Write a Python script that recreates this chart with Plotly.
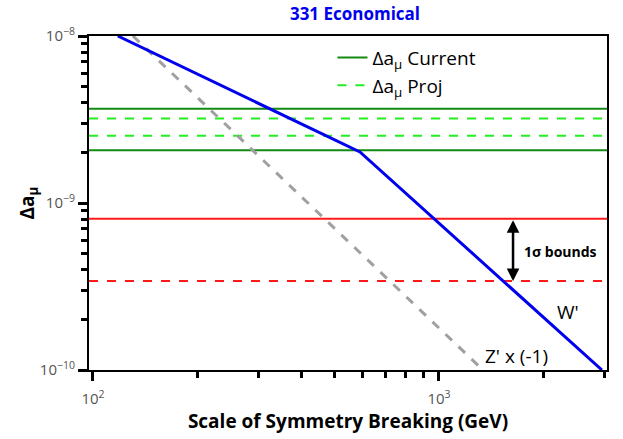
import math
import plotly.graph_objects as go

# ---- data ----
x_range_vals = [97.4, 3059]             # GeV, axis span
wprime_x = [118, 591, 2958]             # W' contribution
wprime_y = [1.0e-8, 2.02e-9, 1.0e-10]
zprime_x = [130.5, 1340]                # Z' x (-1)
zprime_y = [1.0e-8, 1.0e-10]
current_hi, current_lo = 3.67e-9, 2.07e-9
proj_hi, proj_lo = 3.21e-9, 2.53e-9
bound_hi, bound_lo = 8.05e-10, 3.41e-10

x_major = [100, 1000]
x_major_text = ["10<sup>2</sup>", "10<sup>3</sup>"]
x_minor = [200, 300, 400, 500, 600, 700, 800, 900, 2000, 3000]
y_major = [1e-10, 1e-9, 1e-8]
y_major_text = ["10<sup>−10</sup>", "10<sup>−9</sup>", "10<sup>−8</sup>"]
y_minor = [2e-10, 3e-10, 4e-10, 5e-10, 6e-10, 7e-10, 8e-10, 9e-10,
           2e-9, 3e-9, 4e-9, 5e-9, 6e-9, 7e-9, 8e-9, 9e-9]

FONT = "Open Sans"
xa, xb = x_range_vals
xr = [math.log10(xa), math.log10(xb)]
yr = [-10, -8]

fig = go.Figure()

fig.add_trace(go.Scatter(
    x=[xa, xb, None, xa, xb], y=[current_hi, current_hi, None, current_lo, current_lo],
    mode="lines", line=dict(color="#138a13", width=2),
    name="Δa<sub>μ</sub> Current"))
fig.add_trace(go.Scatter(
    x=[xa, xb, None, xa, xb], y=[proj_hi, proj_hi, None, proj_lo, proj_lo],
    mode="lines", line=dict(color="#22ee22", width=2, dash="dash"),
    name="Δa<sub>μ</sub> Proj"))
fig.add_trace(go.Scatter(
    x=[xa, xb], y=[bound_hi, bound_hi], mode="lines",
    line=dict(color="#ff1a1a", width=2), showlegend=False))
fig.add_trace(go.Scatter(
    x=[xa, xb], y=[bound_lo, bound_lo], mode="lines",
    line=dict(color="#ff1a1a", width=2, dash="dash"), showlegend=False))
fig.add_trace(go.Scatter(
    x=zprime_x, y=zprime_y, mode="lines",
    line=dict(color="#a0a0a0", width=3, dash="dash"), showlegend=False))
fig.add_trace(go.Scatter(
    x=wprime_x, y=wprime_y, mode="lines",
    line=dict(color="#0000ee", width=3), showlegend=False))
# invisible trace carrying the overlay axes that lengthen the major ticks
fig.add_trace(go.Scatter(x=[xa], y=[1e-9], xaxis="x2", yaxis="y2", mode="markers",
                         marker=dict(opacity=0), showlegend=False, hoverinfo="skip"))

arrow_x = math.log10(1637)
fig.add_annotation(x=arrow_x, y=math.log10(bound_lo), ax=arrow_x, ay=math.log10(bound_hi),
                   xref="x", yref="y", axref="x", ayref="y", text="",
                   showarrow=True, arrowhead=2, arrowside="end+start",
                   arrowwidth=2.5, arrowsize=1, arrowcolor="black",
                   startarrowhead=2, startarrowsize=1)
fig.add_annotation(x=3.350, y=math.log10(5.1e-10), xref="x", yref="y",
                   text="<b>1σ bounds</b>", showarrow=False,
                   font=dict(family=FONT, size=14, color="black"))
fig.add_annotation(x=3.373, y=-9.653, xref="x", yref="y", text="W'",
                   showarrow=False, font=dict(family=FONT, size=19, color="black"))
fig.add_annotation(x=3.225, y=-9.916, xref="x", yref="y", text="Z' x (-1)",
                   showarrow=False, font=dict(family=FONT, size=19, color="black"))

fig.update_layout(
    template="none",
    xaxis=dict(type="log", range=xr, tickmode="array", tickvals=x_major + x_minor,
               ticktext=x_major_text + [""] * len(x_minor),
               showline=True, linecolor="black", linewidth=2, mirror=True,
               ticks="outside", ticklen=6, tickwidth=3, tickcolor="black",
               ticklabelstandoff=8,
               showgrid=False, zeroline=False,
               tickfont=dict(family=FONT, size=15, color="#555555"),
               title=dict(text="<b>Scale of Symmetry Breaking (GeV)</b>",
                          font=dict(family=FONT, size=19, color="black"), standoff=3)),
    yaxis=dict(type="log", range=yr, tickmode="array", tickvals=y_major + y_minor,
               ticktext=y_major_text + [""] * len(y_minor),
               showline=True, linecolor="black", linewidth=2, mirror=True,
               ticks="outside", ticklen=6, tickwidth=3, tickcolor="black",
               ticklabelstandoff=3,
               showgrid=False, zeroline=False,
               tickfont=dict(family=FONT, size=15, color="#555555"),
               title=dict(text="<b>Δa<sub>μ</sub></b>",
                          font=dict(family=FONT, size=19, color="black"), standoff=0)),
    xaxis2=dict(type="log", range=xr, tickmode="array", tickvals=x_major,
                overlaying="x", anchor="y2", side="bottom", showline=False,
                ticks="outside", ticklen=10, tickwidth=3, tickcolor="black",
                showticklabels=False, showgrid=False, zeroline=False),
    yaxis2=dict(type="log", range=yr, tickmode="array", tickvals=y_major,
                overlaying="y", anchor="x2", side="left", showline=False,
                ticks="outside", ticklen=10, tickwidth=3, tickcolor="black",
                showticklabels=False, showgrid=False, zeroline=False),
    width=623, height=439,
    margin=dict(l=89, r=16, t=36, b=69),
    plot_bgcolor="white", paper_bgcolor="white",
    title=dict(text="<b>331 Economical</b>", x=0.5135, xref="paper", xanchor="center",
               y=1 - 14 / 439, yanchor="middle",
               font=dict(family=FONT, size=17, color="#0000ee")),
    legend=dict(x=0.47, y=0.992, xanchor="left", yanchor="top", bgcolor="rgba(0,0,0,0)",
                font=dict(family=FONT, size=19, color="black"), tracegroupgap=0),
    font=dict(family=FONT),
)

fig.write_html("out.html", config={"displayModeBar": False},
               post_script="document.body.style.margin='0';document.body.style.padding='0';")
